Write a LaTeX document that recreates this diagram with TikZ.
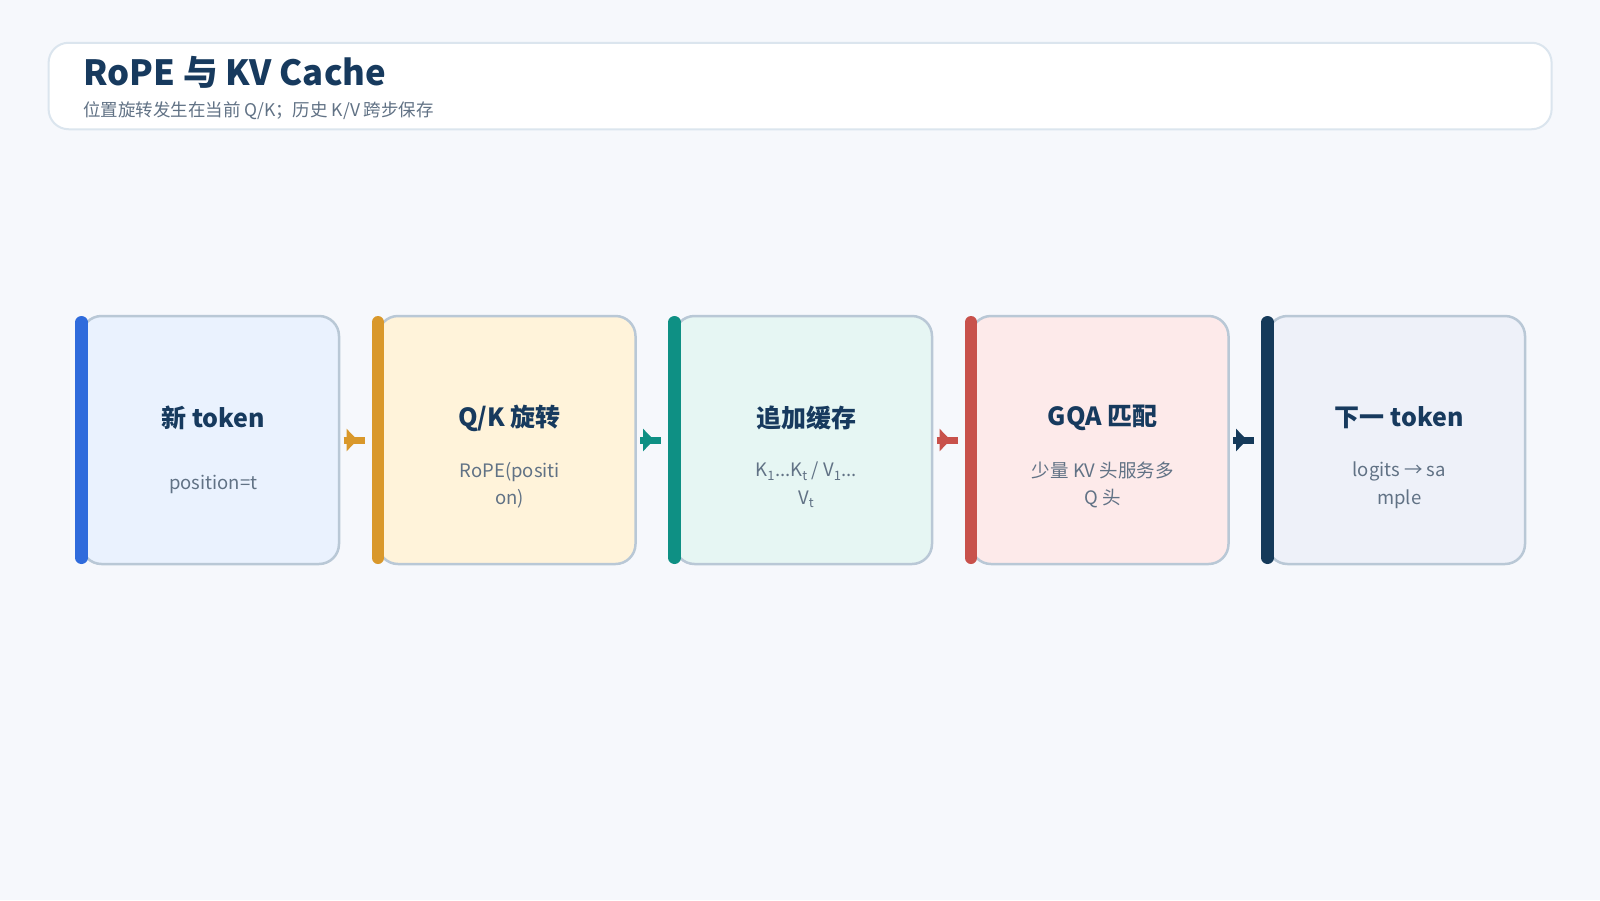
\documentclass[tikz,border=0pt]{standalone}
\usepackage{fontspec}
\setmainfont{Noto Sans CJK SC}
\usetikzlibrary{arrows.meta}
\definecolor{bgc}{HTML}{F6F8FC}
\definecolor{hdrline}{HTML}{DBE5EE}
\definecolor{boxline}{HTML}{B9C8D6}
\definecolor{navy}{HTML}{173A5E}
\definecolor{subgray}{HTML}{617285}
\definecolor{fillA}{HTML}{EAF2FE}
\definecolor{fillB}{HTML}{FFF3DA}
\definecolor{fillC}{HTML}{E6F6F3}
\definecolor{fillD}{HTML}{FDEAEA}
\definecolor{fillE}{HTML}{EEF1F9}
\definecolor{barA}{HTML}{2F6BDC}
\definecolor{barB}{HTML}{D9982B}
\definecolor{barC}{HTML}{0E9084}
\definecolor{barD}{HTML}{C8514B}
\definecolor{barE}{HTML}{153A5A}
\begin{document}
\begin{tikzpicture}[x=1pt,y=-1pt,
  stagebox/.style={draw=boxline, line width=2.5pt, rounded corners=20pt, minimum width=257.5pt, minimum height=248pt, inner sep=0pt, outer sep=0pt},
  sidebar/.style={line width=12.5pt, line cap=round},
  ttl/.style={font=\fontsize{25}{29}\selectfont\bfseries, text=navy, inner sep=0pt},
  sub/.style={font=\fontsize{18.5}{27.5}\selectfont, text=subgray, align=center, inner sep=0pt},
  conn/.style={line width=7pt, shorten <=4.5pt, shorten >=13.5pt, -{Triangle[length=11pt,width=22pt,sep=0pt]Square[length=7pt,width=7pt,sep=0pt]}}
]
\fill[bgc] (0,0) rectangle (1600,900);
% header
\node[draw=hdrline, fill=white, line width=2pt, rounded corners=20pt, minimum width=1503pt, minimum height=86.5pt, outer sep=0pt, inner sep=0pt] (hdr) at (800.1,86) {};
\node[anchor=base west, inner sep=0pt, font=\fontsize{34.7}{40}\selectfont\bfseries, text=navy] (title) at (83,85) {RoPE 与 KV Cache};
\node[anchor=base west, inner sep=0pt, font=\fontsize{17.5}{20}\selectfont, text=subgray] (subtitle) at (83,116) {位置旋转发生在当前 Q/K；历史 K/V 跨步保存};
% boxes
\node[stagebox, fill=fillA] (b1) at (210.25,440) {};
\node[stagebox, fill=fillB] (b2) at (506.75,440) {};
\node[stagebox, fill=fillC] (b3) at (803.25,440) {};
\node[stagebox, fill=fillD] (b4) at (1099.75,440) {};
\node[stagebox, fill=fillE] (b5) at (1396.25,440) {};
% side bars
\draw[sidebar, barA] ([yshift=-6.25pt]b1.north west) -- ([yshift=6.25pt]b1.south west);
\draw[sidebar, barB] ([yshift=-6.25pt]b2.north west) -- ([yshift=6.25pt]b2.south west);
\draw[sidebar, barC] ([yshift=-6.25pt]b3.north west) -- ([yshift=6.25pt]b3.south west);
\draw[sidebar, barD] ([yshift=-6.25pt]b4.north west) -- ([yshift=6.25pt]b4.south west);
\draw[sidebar, barE] ([yshift=-6.25pt]b5.north west) -- ([yshift=6.25pt]b5.south west);
% connectors
\draw[conn, barB] (b1.east) -- (b2.west);
\draw[conn, barC] (b2.east) -- (b3.west);
\draw[conn, barD] (b3.east) -- (b4.west);
\draw[conn, barE] (b4.east) -- (b5.west);
% titles
\node[ttl] (t1) at (213.25,418) {新 token};
\node[ttl] (t2) at (509.75,418) {Q/K 旋转};
\node[ttl] (t3) at (806.25,418) {追加缓存};
\node[ttl] (t4) at (1102.75,418) {GQA 匹配};
\node[ttl] (t5) at (1399.25,418) {下一 token};
% subtitles
\node[sub] (s1) at (213.25,484) {position=t};
\node[sub] (s2) at (509.75,485) {RoPE(positi\\on)};
\node[sub] (s3) at (806.25,485) {K\textsubscript{1}...K\textsubscript{t} / V\textsubscript{1}...\\V\textsubscript{t}};
\node[sub] (s4) at (1102.75,485) {少量 KV 头服务多\\Q 头};
\node[sub] (s5) at (1399.25,485) {logits → sa\\mple};
\end{tikzpicture}
\end{document}
